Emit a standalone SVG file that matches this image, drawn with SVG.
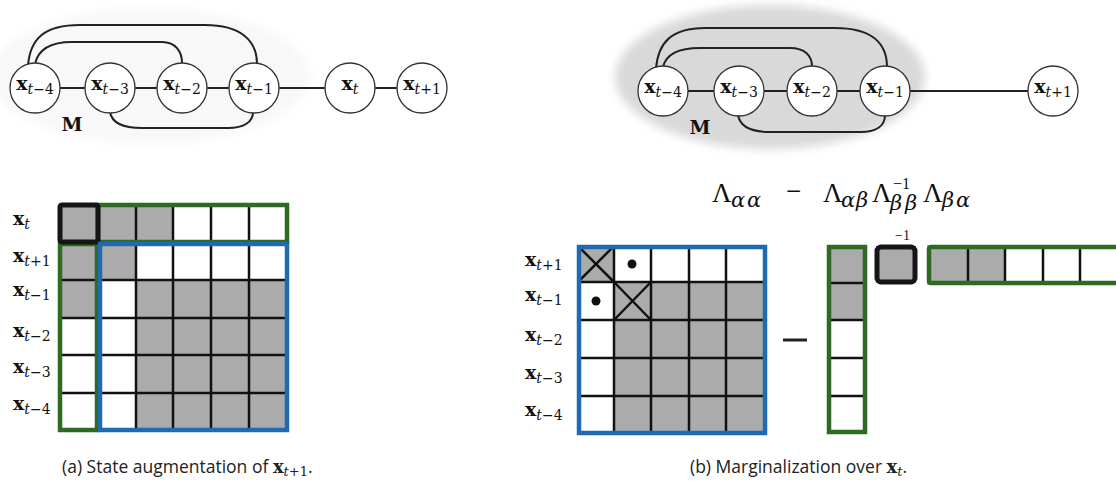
<svg xmlns="http://www.w3.org/2000/svg" width="1116" height="482" viewBox="0 0 1116 482">
<style>
.node{fill:#fff;stroke:#333;stroke-width:1.3}
.edge{fill:none;stroke:#222;stroke-width:2}
.lbl{font-family:"DejaVu Serif","Liberation Serif",serif;font-size:19px;fill:#111}
.xb{font-weight:bold}
.sub{font-size:14px;font-style:italic}
.subn{font-size:14px}
.g{fill:#ababab}
.w{fill:#fff}
.grid{stroke:#111;stroke-width:2.5;fill:none}
.blue{fill:none;stroke:#1f6bb3;stroke-width:4.5}
.green{fill:none;stroke:#2e6a22;stroke-width:4.5}
.blk{fill:none;stroke:#151515;stroke-width:5}
.math{font-family:"Liberation Serif","DejaVu Serif",serif;fill:#111}
.big{font-size:27px}
.ms{font-family:"DejaVu Serif","Liberation Serif",serif;font-size:21px;font-style:italic}
.cap{font-family:"Open Sans","Liberation Sans",sans-serif;font-size:17.5px;fill:#222}
</style>
<defs>
<filter id="blur" x="-20%" y="-20%" width="140%" height="140%"><feGaussianBlur stdDeviation="5"/></filter>
</defs>
<rect width="1116" height="482" fill="#fff"/>

<ellipse cx="150" cy="76" rx="160" ry="68" fill="#f8f8f8" filter="url(#blur)"/>
<ellipse cx="770" cy="77" rx="155" ry="72" fill="#d9d9d9" filter="url(#blur)"/>

<g id="connectors">
  <line class="edge" x1="60" y1="88" x2="85" y2="88"/>
  <line class="edge" x1="135" y1="88" x2="157" y2="88"/>
  <line class="edge" x1="207" y1="88" x2="229" y2="88"/>
  <line class="edge" x1="279" y1="88" x2="325" y2="88" stroke-width="1.4"/>
  <line class="edge" x1="375" y1="88" x2="397" y2="88"/>
  <path class="edge" d="M28,66 C30,38 45,25 80,25 L205,25 C240,25 257,40 257,64"/>
  <path class="edge" d="M35,64 C38,50 50,42 72,42 L162,42 C176,42 182,52 182,63"/>
  <path class="edge" d="M110,112 C112,124 125,128 142,128 L228,128 C244,128 253,122 253,112"/>
  <line class="edge" x1="688" y1="91" x2="714" y2="91"/>
  <line class="edge" x1="764" y1="91" x2="787" y2="91"/>
  <line class="edge" x1="837" y1="91" x2="860" y2="91"/>
  <line class="edge" x1="910" y1="91" x2="1028" y2="91" stroke-width="1.6"/>
  <path class="edge" d="M656,69 C658,42 672,28 705,28 L835,28 C870,28 887,42 887,67"/>
  <path class="edge" d="M663,67 C666,54 678,48 700,48 L790,48 C805,48 812,56 812,66"/>
  <path class="edge" d="M738,115 C740,127 752,132 770,132 L860,132 C876,132 885,126 885,115"/>
</g>

<g id="L_xt-4"><circle class="node" cx="35" cy="88" r="25"/><text class="lbl" x="35" y="90" text-anchor="middle"><tspan class="xb">x</tspan><tspan class="sub" dy="4">t</tspan><tspan class="subn">−4</tspan></text></g>
<g id="L_xt-3"><circle class="node" cx="110" cy="88" r="25"/><text class="lbl" x="110" y="90" text-anchor="middle"><tspan class="xb">x</tspan><tspan class="sub" dy="4">t</tspan><tspan class="subn">−3</tspan></text></g>
<g id="L_xt-2"><circle class="node" cx="182" cy="88" r="25"/><text class="lbl" x="182" y="90" text-anchor="middle"><tspan class="xb">x</tspan><tspan class="sub" dy="4">t</tspan><tspan class="subn">−2</tspan></text></g>
<g id="L_xt-1"><circle class="node" cx="254" cy="88" r="25"/><text class="lbl" x="254" y="90" text-anchor="middle"><tspan class="xb">x</tspan><tspan class="sub" dy="4">t</tspan><tspan class="subn">−1</tspan></text></g>
<g id="L_xt"><circle class="node" cx="350" cy="88" r="25"/><text class="lbl" x="350" y="90" text-anchor="middle"><tspan class="xb">x</tspan><tspan class="sub" dy="4">t</tspan></text></g>
<g id="L_xt+1"><circle class="node" cx="422" cy="88" r="25"/><text class="lbl" x="422" y="90" text-anchor="middle"><tspan class="xb">x</tspan><tspan class="sub" dy="4">t</tspan><tspan class="subn">+1</tspan></text></g>
<text class="lbl xb" x="72" y="131" font-size="15" text-anchor="middle">M</text>

<g id="R_xt-4"><circle class="node" cx="663" cy="91" r="25"/><text class="lbl" x="663" y="93" text-anchor="middle"><tspan class="xb">x</tspan><tspan class="sub" dy="4">t</tspan><tspan class="subn">−4</tspan></text></g>
<g id="R_xt-3"><circle class="node" cx="739" cy="91" r="25"/><text class="lbl" x="739" y="93" text-anchor="middle"><tspan class="xb">x</tspan><tspan class="sub" dy="4">t</tspan><tspan class="subn">−3</tspan></text></g>
<g id="R_xt-2"><circle class="node" cx="812" cy="91" r="25"/><text class="lbl" x="812" y="93" text-anchor="middle"><tspan class="xb">x</tspan><tspan class="sub" dy="4">t</tspan><tspan class="subn">−2</tspan></text></g>
<g id="R_xt-1"><circle class="node" cx="885" cy="91" r="25"/><text class="lbl" x="885" y="93" text-anchor="middle"><tspan class="xb">x</tspan><tspan class="sub" dy="4">t</tspan><tspan class="subn">−1</tspan></text></g>
<g id="R_xt+1"><circle class="node" cx="1053" cy="91" r="25"/><text class="lbl" x="1053" y="93" text-anchor="middle"><tspan class="xb">x</tspan><tspan class="sub" dy="4">t</tspan><tspan class="subn">+1</tspan></text></g>
<text class="lbl xb" x="700" y="134" font-size="15" text-anchor="middle">M</text>

<g id="left-matrix">
  <rect class="g" x="60" y="205" width="38" height="37"/>
  <rect class="g" x="98" y="205" width="75" height="37"/>
  <rect class="w" x="173" y="205" width="114" height="37"/>
  <rect class="g" x="60" y="243" width="38" height="75"/>
  <rect class="w" x="60" y="318" width="38" height="112"/>
  <rect class="w" x="98" y="243" width="189" height="187"/>
  <rect class="g" x="98" y="243" width="38" height="37"/>
  <rect class="g" x="136" y="280" width="151" height="150"/>
  <path class="grid" d="M136,205V242 M173,205V242 M211,205V242 M249,205V242
    M60,280H98 M60,318H98 M60,355H98 M60,393H98
    M136,243V430 M173,243V430 M211,243V430 M249,243V430
    M98,280H287 M98,318H287 M98,355H287 M98,393H287"/>
  <rect class="green" x="98" y="205" width="189" height="37"/>
  <rect class="green" x="60" y="244" width="37" height="186"/>
  <rect class="blk" x="60" y="205" width="38" height="37" rx="2"/>
  <rect class="blue" x="100" y="244" width="187" height="186"/>
  <text class="lbl" x="13" y="225"><tspan class="xb">x</tspan><tspan class="sub" dy="4">t</tspan></text>
  <text class="lbl" x="13" y="262"><tspan class="xb">x</tspan><tspan class="sub" dy="4">t</tspan><tspan class="subn">+1</tspan></text>
  <text class="lbl" x="13" y="296"><tspan class="xb">x</tspan><tspan class="sub" dy="4">t</tspan><tspan class="subn">−1</tspan></text>
  <text class="lbl" x="13" y="337"><tspan class="xb">x</tspan><tspan class="sub" dy="4">t</tspan><tspan class="subn">−2</tspan></text>
  <text class="lbl" x="13" y="373"><tspan class="xb">x</tspan><tspan class="sub" dy="4">t</tspan><tspan class="subn">−3</tspan></text>
  <text class="lbl" x="13" y="410"><tspan class="xb">x</tspan><tspan class="sub" dy="4">t</tspan><tspan class="subn">−4</tspan></text>
</g>

<g id="formula" class="math">
  <text class="big" x="712" y="202">Λ</text>
  <text class="ms" x="731 747" y="207">αα</text>
  <text class="big" x="786" y="200">−</text>
  <text class="big" x="823" y="202">Λ</text>
  <text class="ms" x="841 856" y="207">αβ</text>
  <text class="big" x="872" y="202">Λ</text>
  <text x="893" y="189" font-size="16">−1</text>
  <text class="ms" x="890 905" y="210">ββ</text>
  <text class="big" x="923" y="202">Λ</text>
  <text class="ms" x="942 956" y="207">βα</text>
</g>

<g id="right-matrix">
  <rect class="w" x="577" y="245" width="188" height="188"/>
  <rect class="g" x="577" y="245" width="37" height="37"/>
  <rect class="g" x="614" y="282" width="151" height="151"/>
  <path class="grid" d="M614,245V433 M651,245V433 M689,245V433 M726,245V433
    M577,282H765 M577,320H765 M577,358H765 M577,396H765"/>
  <path class="grid" d="M578,246L614,282 M614,246L578,282 M614,282L651,320 M651,282L614,320"/>
  <circle cx="632" cy="264" r="4.5" fill="#111"/>
  <circle cx="596" cy="301" r="4.5" fill="#111"/>
  <rect class="blue" x="579" y="247" width="186" height="186"/>
  <text class="lbl" x="525" y="266"><tspan class="xb">x</tspan><tspan class="sub" dy="4">t</tspan><tspan class="subn">+1</tspan></text>
  <text class="lbl" x="525" y="301"><tspan class="xb">x</tspan><tspan class="sub" dy="4">t</tspan><tspan class="subn">−1</tspan></text>
  <text class="lbl" x="525" y="341"><tspan class="xb">x</tspan><tspan class="sub" dy="4">t</tspan><tspan class="subn">−2</tspan></text>
  <text class="lbl" x="525" y="379"><tspan class="xb">x</tspan><tspan class="sub" dy="4">t</tspan><tspan class="subn">−3</tspan></text>
  <text class="lbl" x="525" y="416"><tspan class="xb">x</tspan><tspan class="sub" dy="4">t</tspan><tspan class="subn">−4</tspan></text>
</g>
<line x1="783" y1="340" x2="807" y2="340" stroke="#222" stroke-width="3"/>

<g id="green-column">
  <rect class="g" x="827" y="245" width="40" height="75"/>
  <rect class="w" x="827" y="320" width="40" height="113"/>
  <path class="grid" d="M827,283H867 M827,320H867 M827,358H867 M827,396H867"/>
  <rect class="green" x="829" y="247" width="36" height="185"/>
</g>

<g id="inverse-block">
  <rect class="g" x="876" y="246" width="40" height="37"/>
  <rect class="blk" x="877" y="247" width="38" height="35" rx="4"/>
  <text class="math" x="895" y="240" font-size="14">−1</text>
</g>

<g id="green-row">
  <rect class="g" x="927" y="245" width="78" height="40"/>
  <rect class="w" x="1005" y="245" width="115" height="40"/>
  <path class="grid" d="M968,245V285 M1005,245V285 M1043,245V285 M1080,245V285"/>
  <rect class="green" x="929" y="247" width="195" height="36" rx="2"/>
</g>

<text class="cap" x="62" y="473">(a) State augmentation of <tspan font-family="DejaVu Serif" font-weight="bold" font-size="18">x</tspan><tspan font-family="DejaVu Serif" font-style="italic" font-size="13" dy="3">t</tspan><tspan font-family="DejaVu Serif" font-size="13">+1</tspan><tspan dy="-3">.</tspan></text>
<text class="cap" x="690" y="473">(b) Marginalization over <tspan font-family="DejaVu Serif" font-weight="bold" font-size="18">x</tspan><tspan font-family="DejaVu Serif" font-style="italic" font-size="13" dy="3">t</tspan><tspan dy="-3">.</tspan></text>
</svg>
